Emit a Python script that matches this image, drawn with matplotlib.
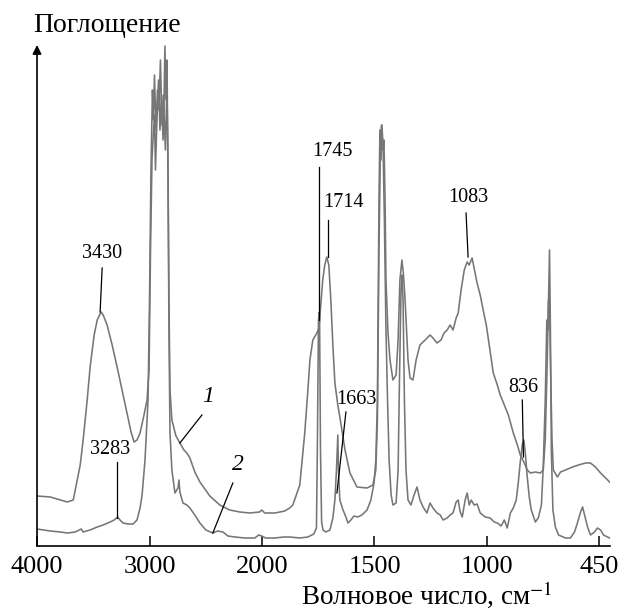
import numpy as np
import matplotlib.pyplot as plt

plt.rcParams['font.family'] = ['Liberation Serif', 'DejaVu Serif']
plt.rcParams['mathtext.fontset'] = 'stix'

# spectrum 1 (upper curve)
wn1 = [4000, 3882, 3793, 3731, 3678, 3643, 3616, 3590, 3554, 3528, 3492, 3465, 3430, 3412,
       3377, 3332, 3288, 3244, 3200, 3164, 3137, 3111, 3084, 3049, 3022, 3004, 2991, 2978,
       2969, 2956, 2947, 2934, 2920, 2907, 2894, 2880, 2872, 2863, 2854, 2845, 2836, 2827,
       2818, 2801, 2765, 2730, 2694, 2668, 2641, 2597, 2552, 2464, 2375, 2287, 2198, 2109,
       2021, 2003, 1988, 1943, 1899, 1877, 1863, 1832, 1810, 1796, 1787, 1774, 1756, 1747,
       1743, 1730, 1721, 1712, 1703, 1694, 1685, 1676, 1663, 1654, 1631, 1609, 1578, 1533,
       1507, 1494, 1487, 1480, 1473, 1469, 1462, 1458, 1453, 1449, 1440, 1431, 1418, 1404,
       1395, 1387, 1378, 1371, 1364, 1351, 1342, 1329, 1315, 1298, 1275, 1253, 1240, 1222,
       1204, 1191, 1177, 1164, 1151, 1137, 1128, 1115, 1101, 1088, 1079, 1066, 1057, 1044,
       1030, 1017, 1003, 990, 972, 954, 941, 923, 905, 883, 865, 852, 834, 821, 807, 785,
       763, 750, 741, 732, 727, 722, 718, 711, 705, 687, 673, 651, 620, 593, 562, 540, 518,
       495, 473, 455]
ab1 = [10.0, 9.8, 9.2, 8.8, 9.2, 13.2, 16.2, 21.2, 29.2, 35.8, 42.2, 45.2, 46.8, 46.2,
       44.2, 40.2, 35.8, 31.2, 26.6, 22.8, 20.8, 21.2, 22.6, 26.2, 29.2, 35.2, 59.2, 77.2,
       81.2, 86.2, 75.2, 85.2, 93.2, 83.2, 90.2, 81.2, 87.2, 100.0, 89.2, 97.2, 77.2, 49.2,
       31.2, 25.2, 22.0, 20.6, 19.2, 18.6, 17.6, 14.8, 12.8, 10.0, 8.2, 7.2, 6.8, 6.6,
       6.8, 7.2, 6.6, 6.6, 7.0, 7.6, 8.2, 12.2, 22.6, 31.2, 37.2, 41.2, 42.6, 43.6,
       45.8, 53.2, 56.2, 57.8, 56.2, 49.2, 40.2, 32.6, 28.2, 25.8, 19.2, 14.6, 11.8, 11.6,
       12.2, 15.2, 25.2, 59.2, 81.2, 84.2, 79.2, 81.2, 69.2, 53.2, 42.6, 37.2, 33.2, 34.2,
       41.2, 53.2, 57.2, 54.2, 49.2, 37.2, 33.6, 33.2, 37.2, 40.2, 41.2, 42.2, 41.6, 40.6,
       41.2, 42.6, 43.2, 44.2, 43.2, 45.6, 46.6, 51.2, 55.2, 56.8, 56.2, 57.6, 55.6, 52.6,
       50.2, 47.2, 44.2, 40.2, 34.6, 32.2, 30.2, 28.2, 26.2, 22.6, 20.2, 18.2, 16.6, 15.2, 14.6, 14.8,
       14.6, 15.2, 21.2, 37.2, 49.2, 49.2, 37.2, 21.2, 15.2, 13.8, 14.8, 15.2, 15.8, 16.2, 16.6, 16.6, 15.8,
       14.6, 13.6, 12.8]

# spectrum 2 (lower curve)
wn2 = [4000, 3882, 3793, 3731, 3660, 3607, 3590, 3528, 3465, 3412, 3350, 3315, 3283, 3262,
       3235, 3191, 3146, 3111, 3084, 3066, 3040, 3013, 3000, 2987, 2974, 2965, 2956, 2942,
       2929, 2916, 2903, 2889, 2876, 2859, 2845, 2836, 2827, 2818, 2801, 2774, 2747, 2738,
       2730, 2703, 2668, 2641, 2597, 2552, 2499, 2437, 2393, 2347, 2303, 2241, 2152, 2064,
       2029, 2003, 1984, 1943, 1903, 1877, 1832, 1796, 1770, 1758, 1754, 1749, 1745, 1744,
       1740, 1735, 1729, 1716, 1698, 1685, 1676, 1669, 1663, 1660, 1654, 1640, 1627, 1618,
       1605, 1591, 1574, 1556, 1533, 1516, 1502, 1494, 1487, 1480, 1476, 1471, 1467, 1462,
       1456, 1449, 1442, 1435, 1426, 1418, 1404, 1395, 1389, 1382, 1378, 1373, 1367, 1360,
       1351, 1338, 1324, 1311, 1298, 1284, 1267, 1253, 1240, 1222, 1208, 1195, 1177, 1164,
       1151, 1137, 1128, 1119, 1110, 1097, 1088, 1079, 1070, 1057, 1044, 1030, 1008, 986,
       968, 954, 937, 923, 910, 896, 883, 870, 861, 852, 843, 836, 829, 821, 812, 803, 785,
       772, 758, 750, 741, 734, 729, 722, 718, 714, 707, 696, 682, 651, 629, 611, 598, 584,
       575, 566, 553, 540, 522, 509, 495, 482, 464, 455]
ab2 = [3.4, 3.0, 2.8, 2.6, 2.8, 3.4, 2.8, 3.2, 3.8, 4.2, 4.8, 5.2, 5.8, 5.2,
       4.6, 4.4, 4.4, 5.2, 7.6, 10.2, 17.2, 29.2, 49.2, 75.2, 91.2, 85.2, 94.2, 83.2,
       91.2, 87.2, 97.2, 84.2, 90.2, 79.2, 92.2, 75.2, 43.2, 22.6, 15.2, 10.6, 11.6, 13.2,
       10.8, 8.6, 8.2, 7.6, 6.2, 4.6, 3.2, 2.6, 3.0, 2.8, 2.0, 1.8, 1.6, 1.6,
       2.2, 2.0, 1.6, 1.6, 1.8, 1.8, 1.6, 1.8, 2.4, 3.6, 19.2, 45.2, 46.8, 45.2,
       19.2, 4.8, 3.2, 2.8, 3.2, 5.6, 9.2, 15.2, 22.2, 15.2, 9.2, 7.2, 5.8, 4.6,
       5.2, 6.0, 5.8, 6.2, 7.2, 9.2, 12.6, 17.2, 29.2, 69.2, 83.2, 77.2, 84.2, 80.2,
       65.2, 43.2, 29.2, 17.2, 10.2, 8.2, 8.6, 15.2, 33.2, 51.2, 54.2, 49.2, 29.2, 15.2,
       9.2, 8.2, 10.2, 11.8, 9.2, 7.8, 6.6, 8.6, 7.6, 6.6, 6.2, 5.2, 5.6, 6.2,
       6.6, 8.8, 9.2, 6.8, 5.8, 9.2, 10.6, 8.2, 9.2, 8.2, 8.4, 6.6, 5.8, 5.6,
       4.8, 4.6, 4.0, 5.2, 3.6, 6.6, 7.6, 9.2, 12.6, 16.8, 20.2, 21.2, 18.2, 13.8, 9.8, 7.2, 4.8,
       5.6, 8.2, 15.8, 29.2, 45.2, 43.2, 59.2, 43.2, 19.2, 7.2, 3.8, 2.2, 1.6, 1.6, 2.8, 4.6, 6.8,
       7.8, 6.2, 3.8, 2.2, 2.8, 3.6, 3.2, 2.2, 1.8, 1.6]

# peak labels: text, text position, pointer start, pointer end
peak_labels = ['3430', '3283', '1745', '1714', '1663', '1083', '836']
label_pos = [(3421, 58.4), (3350, 19.2), (1685, 78.8), (1640, 68.6), (1582, 29.2), (1084, 69.6), (838, 31.6)]
pointers = [((3421, 55.6), (3439, 46.8)), ((3288, 16.8), (3288, 5.6)), ((1747, 75.8), (1747, 45.2)),
            ((1707, 65.2), (1707, 57.8)), ((1627, 26.8), (1667, 10.6)), ((1093, 66.6), (1084, 57.8)),
            ((843, 29.2), (838, 17.8))]
curve_names = ['1', '2']
name_pos = [(2481, 29.8), (2215, 16.2)]
name_pointers = [((2534, 26.2), (2730, 20.6)), ((2259, 12.6), (2437, 2.6))]

tick_pos = [4000, 3000, 2000, 1500, 1000, 500]
tick_lab = ['4000', '3000', '2000', '1500', '1000', '450']


def fwd(w):
    w = np.asarray(w, dtype=float)
    return np.where(w <= 2000, 2 * w, w + 2000)


def inv(u):
    u = np.asarray(u, dtype=float)
    return np.where(u <= 4000, u / 2, u - 2000)


fig = plt.figure(figsize=(6.19, 6.13), dpi=100)
ax = fig.add_axes([0.0598, 0.1093, 0.925, 0.8173])
ax.set_xscale('function', functions=(fwd, inv))

gray = '#767676'
ax.plot(wn1, ab1, color=gray, lw=1.15)
ax.plot(wn2, ab2, color=gray, lw=1.15)

for lab, pos, (p0, p1) in zip(peak_labels, label_pos, pointers):
    ax.text(pos[0], pos[1], lab, fontsize=14.5, ha='center', va='center')
    ax.plot([p0[0], p1[0]], [p0[1], p1[1]], color='k', lw=0.9)

for lab, pos, (p0, p1) in zip(curve_names, name_pos, name_pointers):
    ax.text(pos[0], pos[1], lab, fontsize=17, style='italic', ha='center', va='center')
    ax.plot([p0[0], p1[0]], [p0[1], p1[1]], color='k', lw=0.9)

ax.set_xlim(4000, 455)
ax.set_ylim(0, 100.2)
ax.set_xticks(tick_pos)
ax.set_xticklabels(tick_lab)
ax.minorticks_off()
ax.tick_params(axis='x', direction='in', length=7, width=1.1, labelsize=19, pad=7)
ax.set_yticks([])
for s in ['top', 'right', 'left']:
    ax.spines[s].set_visible(False)
ax.spines['bottom'].set_linewidth(1.2)

ax.annotate('', xy=(0, 1.0), xytext=(0, 0), xycoords='axes fraction',
            arrowprops=dict(arrowstyle='-|>', color='k', lw=1.2, mutation_scale=13,
                            shrinkA=0, shrinkB=0))

fig.text(33 / 619, 1 - 25 / 613, 'Поглощение', fontsize=20, ha='left', va='center')
fig.text(552 / 619, 1 - 595 / 613, 'Волновое число, см$^{-1}$', fontsize=19.5, ha='right', va='center')

fig.savefig('out.png', dpi=100)
